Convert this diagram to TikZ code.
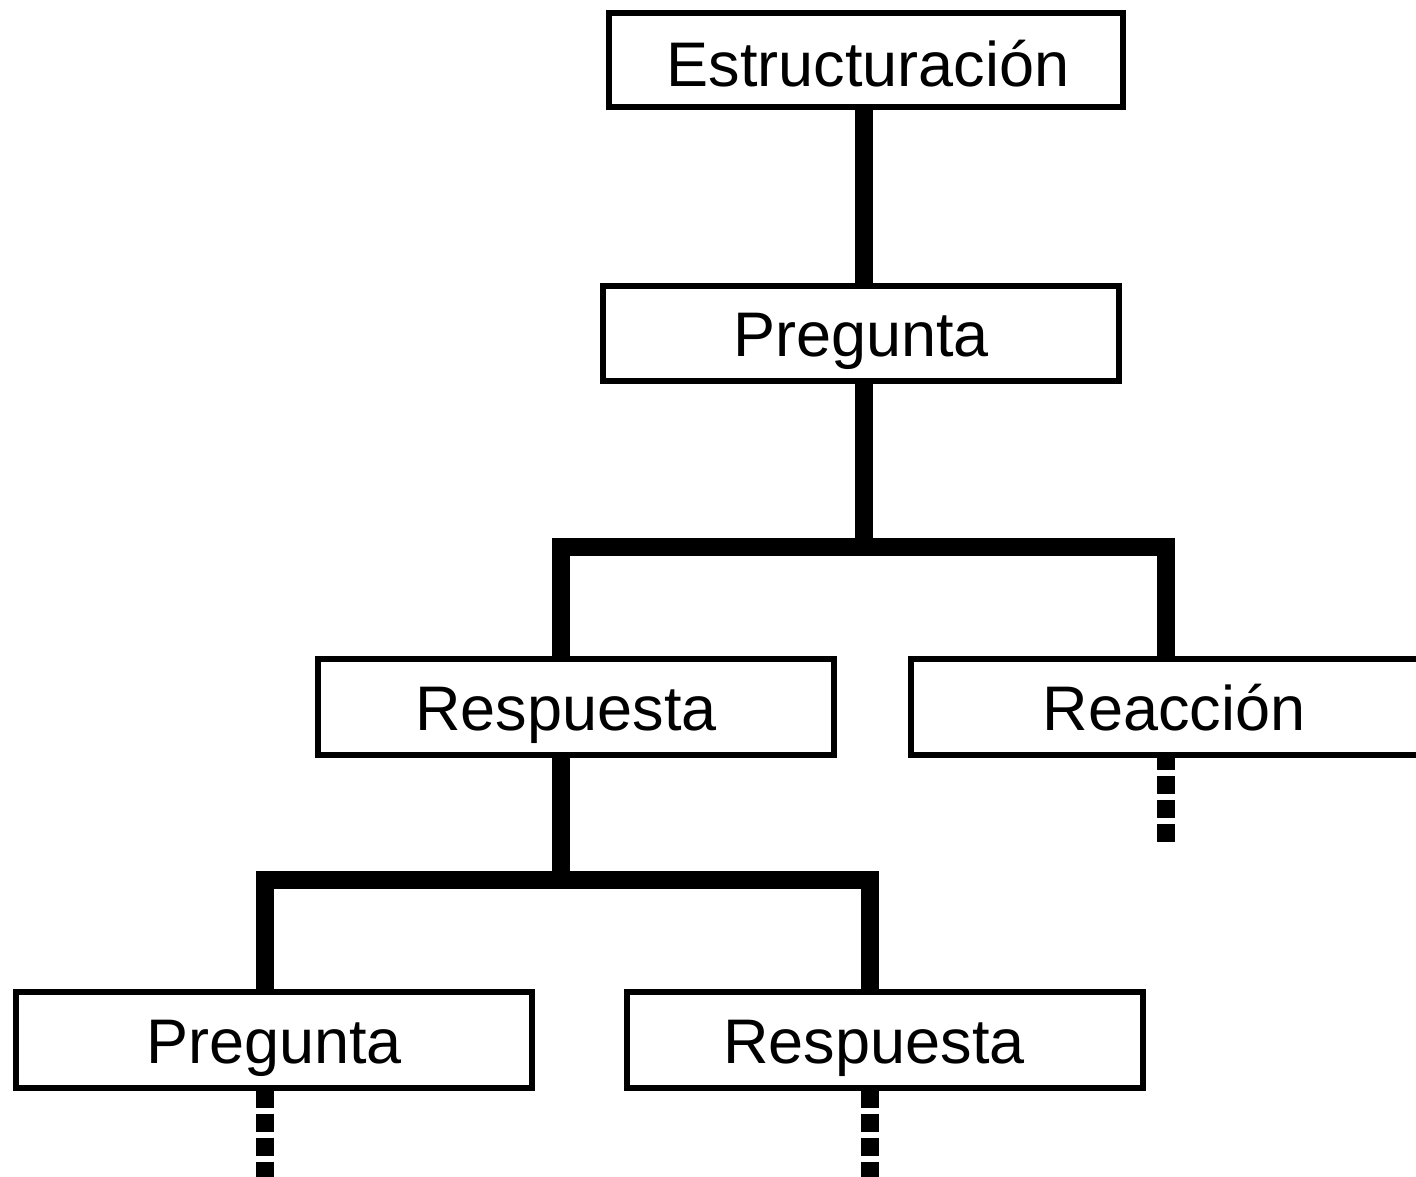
\documentclass[tikz,border=0pt]{standalone}
\usepackage{fontspec}
\setmainfont{Liberation Sans}
\begin{document}
\begin{tikzpicture}[x=1pt,y=-1pt,
  box/.style={draw=black,fill=white,line width=6pt,rectangle,minimum height=95pt,minimum width=516pt,inner sep=0pt,text height=46pt,text depth=0pt,font=\fontsize{63}{70}\selectfont},
  conn/.style={draw=black,line width=18pt,line join=miter,line cap=butt},
  dashconn/.style={draw=black,line width=18pt,line cap=butt,dash pattern=on 18pt off 6pt}]
\useasboundingbox (0,0) rectangle (1416,1177);
\clip (0,0) rectangle (1416,1177);
\fill[white] (0,0) rectangle (1416,1177);
\coordinate (j1) at (864,547);
\coordinate (j2) at (561,880);
\node[box,minimum width=514pt,minimum height=94pt,text height=54pt] (est) at (866,60) {\hspace*{4pt}Estructuración};
\node[box] (preg1) at (861,333.5) {Pregunta};
\node[box,minimum height=96pt] (resp1) at (576,707) {Respuesta\hspace*{20pt}};
\node[box,minimum height=96pt] (reac) at (1169,707) {\hspace*{10pt}Reacción};
\node[box,minimum height=96pt] (preg2) at (274,1040) {Pregunta};
\node[box,minimum height=96pt] (resp2) at (885,1040) {Respuesta\hspace*{22pt}};
\draw[conn] ([xshift=-2pt]est.south) -- ([xshift=-2pt]est.south |- preg1.north);
\draw[conn] ([xshift=3pt]preg1.south) -- (j1);
\draw[conn] ([xshift=-15pt]resp1.north) |- ([xshift=-3pt]reac.north |- j1) -- ([xshift=-3pt]reac.north);
\draw[conn] ([xshift=-15pt]resp1.south) -- (j2);
\draw[conn] ([xshift=-9pt]preg2.north) |- ([xshift=-15pt]resp2.north |- j2) -- ([xshift=-15pt]resp2.north);
\draw[dashconn,dash phase=6pt] ([xshift=-3pt]reac.south) -- ++(0,84);
\draw[dashconn,dash phase=1pt] ([xshift=-9pt]preg2.south) -- ++(0,100);
\draw[dashconn,dash phase=1pt] ([xshift=-15pt]resp2.south) -- ++(0,100);
\end{tikzpicture}
\end{document}
